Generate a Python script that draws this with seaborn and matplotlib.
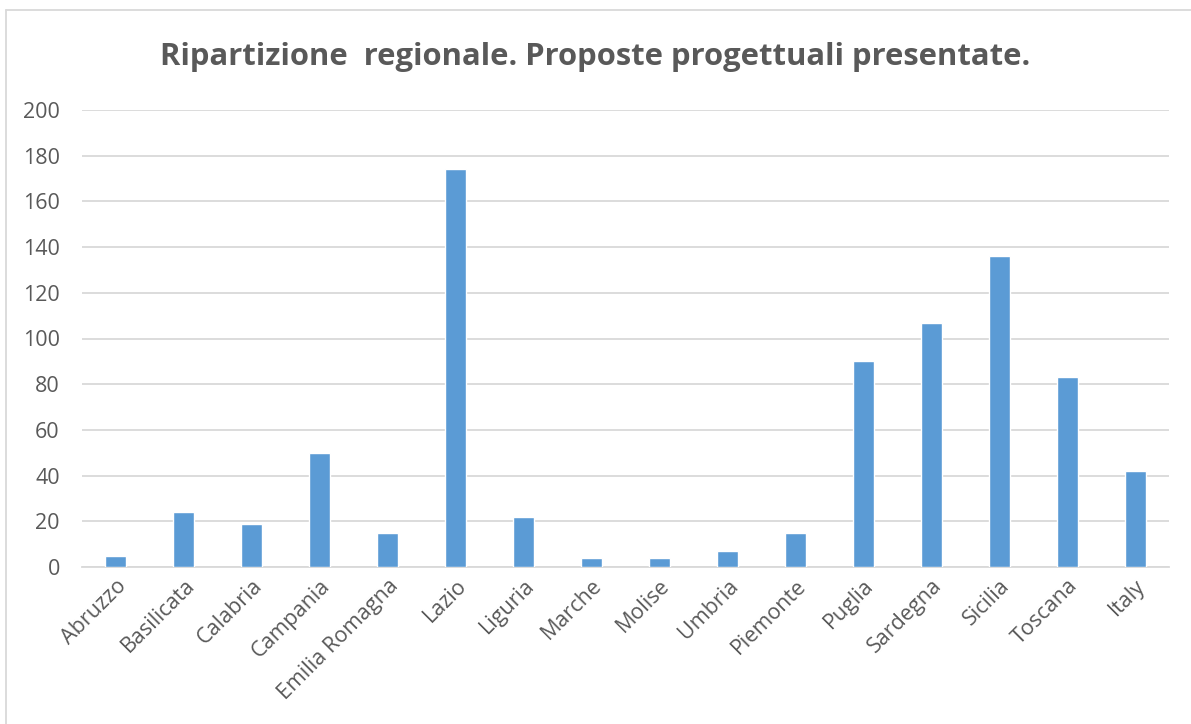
import pandas as pd
import seaborn as sns
import matplotlib.pyplot as plt
from matplotlib.lines import Line2D

regions = ["Abruzzo", "Basilicata", "Calabria", "Campania", "Emilia Romagna",
           "Lazio", "Liguria", "Marche", "Molise", "Umbria", "Piemonte",
           "Puglia", "Sardegna", "Sicilia", "Toscana", "Italy"]
proposals = [5, 24, 19, 50, 15, 174, 22, 4, 4, 7, 15, 90, 107, 136, 83, 42]
y_ticks = [0, 20, 40, 60, 80, 100, 120, 140, 160, 180, 200]

df = pd.DataFrame({"regione": regions, "proposte": proposals})

sns.set_style("white")
plt.rcParams['font.family'] = ['Open Sans', 'DejaVu Sans']
text_col = "#595959"
grid_col = "#D9D9D9"

fig = plt.figure(figsize=(11.91, 7.24), dpi=100)
ax = fig.add_axes([82/1191, 1 - 567/724, (1169 - 82)/1191, (567 - 110)/724])

sns.barplot(data=df, x="regione", y="proposte", color="#5B9BD5",
            width=0.31, saturation=1, ax=ax, zorder=3)

ax.set_ylim(0, 200)
ax.set_yticks(y_ticks)
ax.set_xlim(-0.5, len(regions) - 0.5)
ax.yaxis.grid(True, color=grid_col, linewidth=1.3, zorder=0)
for s in ["top", "right", "left"]:
    ax.spines[s].set_visible(False)
ax.spines["bottom"].set_color(grid_col)
ax.spines["bottom"].set_linewidth(1.3)
ax.tick_params(axis="both", length=0, colors=text_col, labelsize=15.5)
ax.tick_params(axis="y", pad=16)
ax.tick_params(axis="x", pad=6)
ax.set_xticks(range(len(regions)))
ax.set_xticklabels(regions, rotation=45, ha="right", rotation_mode="anchor")
ax.set_xlabel("")
ax.set_ylabel("")

fig.text(0.5, 1 - 57/724, "Ripartizione  regionale. Proposte progettuali presentate.",
         ha="center", va="center", fontsize=22.3, fontweight="bold", color=text_col)

# chart frame (left and top edges visible)
fig.add_artist(Line2D([6/1191, 6/1191], [0, 1 - 10/724], color=grid_col, lw=1.3,
                      transform=fig.transFigure))
fig.add_artist(Line2D([6/1191, 1], [1 - 10/724, 1 - 10/724], color=grid_col, lw=1.3,
                      transform=fig.transFigure))

fig.savefig("out.png", dpi=100)
